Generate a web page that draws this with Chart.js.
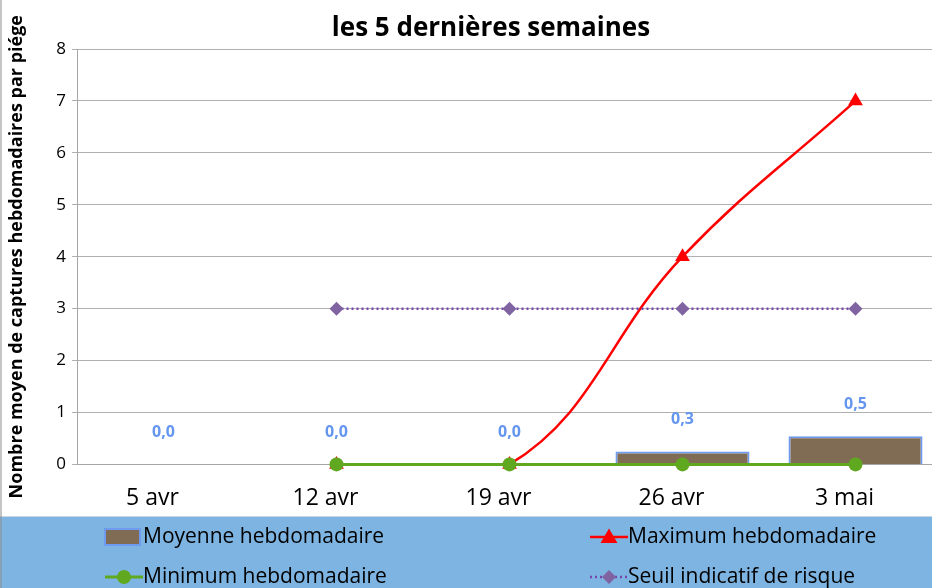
<!DOCTYPE html>
<html>
<head>
<meta charset="utf-8">
<script src="https://cdn.jsdelivr.net/npm/chart.js@4.4.1/dist/chart.umd.min.js"></script>
<style>
  html, body { margin: 0; padding: 0; overflow: hidden; background: #fff; }
  #wrap { position: relative; width: 982px; height: 588px; }
</style>
</head>
<body>
<div id="wrap"><canvas id="captures"></canvas></div>
<script>
// semaines
var semaines = ["5 avr", "12 avr", "19 avr", "26 avr", "3 mai"];
// valeurs
var moyenne = [0, 0, 0, 0.25, 0.54];
var maximum = [null, 0, 0, 4, 7];
var minimum = [null, 0, 0, 0, 0];
var seuil = [null, 3, 3, 3, 3];
var yTicks = [0, 1, 2, 3, 4, 5, 6, 7, 8];
var titre = 'les 5 dernières semaines';

var police = "'Open Sans', 'DejaVu Sans', sans-serif";

// titre (le graphique d'origine est coupe a droite, donc centre a 491)
var titreGraph = {
  id: 'titreGraph',
  afterDraw: function(chart) {
    var ctx = chart.ctx;
    ctx.save();
    ctx.fillStyle = '#000';
    ctx.font = 'bold 26px ' + police;
    ctx.textAlign = 'center';
    ctx.textBaseline = 'middle';
    ctx.fillText(titre, chart.width / 2, 29);
    ctx.restore();
  }
};

// etiquettes bleues au dessus des barres
var etiquettes = {
  id: 'etiquettes',
  afterDatasetsDraw: function(chart) {
    var ctx = chart.ctx;
    var meta = chart.getDatasetMeta(0);
    ctx.save();
    ctx.fillStyle = 'rgb(100,150,240)';
    ctx.font = 'bold 16px ' + police;
    ctx.textAlign = 'center';
    ctx.textBaseline = 'middle';
    meta.data.forEach(function(bar, i) {
      var txt = moyenne[i].toFixed(1).replace('.', ',');
      ctx.fillText(txt, bar.x, bar.y - 32);
    });
    ctx.restore();
  }
};

// legende sur fond bleu, 2 colonnes
var legende = {
  id: 'legende',
  afterDraw: function(chart) {
    var ctx = chart.ctx;
    var top = 516;
    ctx.save();
    ctx.fillStyle = 'rgb(126,180,225)';
    ctx.fillRect(0, top, chart.width, chart.height - top);
    ctx.strokeStyle = 'rgb(200,215,230)';
    ctx.lineWidth = 1;
    ctx.beginPath();
    ctx.moveTo(0, top + 0.5);
    ctx.lineTo(chart.width, top + 0.5);
    ctx.stroke();
    // bordure gauche
    ctx.strokeStyle = '#8c8c8c';
    ctx.beginPath();
    ctx.moveTo(1, 0);
    ctx.lineTo(1, chart.height);
    ctx.stroke();

    var items = chart.data.datasets;
    var pos = [[105, 537], [590, 537], [105, 577], [590, 577]];
    ctx.font = '21px ' + police;
    ctx.textBaseline = 'middle';
    items.forEach(function(ds, j) {
      var x = pos[j][0], y = pos[j][1];
      if (ds.type === 'bar') {
        ctx.fillStyle = ds.backgroundColor;
        ctx.fillRect(x, y - 8, 35, 16);
        ctx.strokeStyle = ds.borderColor;
        ctx.lineWidth = 2;
        ctx.strokeRect(x, y - 8, 35, 16);
      } else {
        ctx.strokeStyle = ds.borderColor;
        ctx.lineWidth = ds.borderWidth;
        ctx.setLineDash(ds.borderDash || []);
        ctx.beginPath();
        ctx.moveTo(x, y);
        ctx.lineTo(x + 38, y);
        ctx.stroke();
        ctx.setLineDash([]);
        var cx = x + 19;
        ctx.fillStyle = ds.pointBackgroundColor;
        ctx.beginPath();
        var r = ds.pointRadius;
        if (ds.pointStyle === 'triangle') {
          ctx.moveTo(cx, y - r);
          ctx.lineTo(cx + r, y + r * 0.7);
          ctx.lineTo(cx - r, y + r * 0.7);
        } else if (ds.pointStyle === 'rectRot') {
          ctx.moveTo(cx, y - r);
          ctx.lineTo(cx + r, y);
          ctx.lineTo(cx, y + r);
          ctx.lineTo(cx - r, y);
        } else {
          ctx.arc(cx, y, r, 0, Math.PI * 2);
        }
        ctx.closePath();
        ctx.fill();
      }
      ctx.fillStyle = '#000';
      ctx.fillText(ds.label, x + 38, y);
    });
    ctx.restore();
  }
};

var config = {
  data: {
    labels: semaines,
    datasets: [
      {
        type: 'bar',
        label: 'Moyenne hebdomadaire',
        data: moyenne,
        backgroundColor: 'rgb(128,108,84)',
        borderColor: 'rgb(110,155,240)',
        borderWidth: 2,
        borderSkipped: 'bottom',
        barPercentage: 0.775,
        categoryPercentage: 1,
        order: 4
      },
      {
        type: 'line',
        label: 'Maximum hebdomadaire',
        data: maximum,
        borderColor: '#ff0000',
        borderWidth: 2.5,
        pointStyle: 'triangle',
        pointRadius: 8.5,
        pointBackgroundColor: '#ff0000',
        pointBorderWidth: 0,
        tension: 0.4,
        clip: false,
        order: 3
      },
      {
        type: 'line',
        label: 'Minimum hebdomadaire',
        data: minimum,
        borderColor: 'rgb(96,168,32)',
        borderWidth: 3,
        pointStyle: 'circle',
        pointRadius: 7,
        pointBackgroundColor: 'rgb(96,168,32)',
        pointBorderWidth: 0,
        clip: false,
        order: 1
      },
      {
        type: 'line',
        label: 'Seuil indicatif de risque',
        data: seuil,
        borderColor: 'rgb(120,70,170)',
        borderWidth: 2.5,
        borderDash: [2, 3],
        pointStyle: 'rectRot',
        pointRadius: 7,
        pointBackgroundColor: 'rgb(128,100,162)',
        pointBorderWidth: 0,
        clip: false,
        order: 2
      }
    ]
  },
  options: {
    responsive: true,
    maintainAspectRatio: false,
    animation: false,
    layout: { padding: { left: 0, right: 40, top: 49, bottom: 56 } },
    plugins: {
      legend: { display: false },
      tooltip: { enabled: false },
      title: { display: false }
    },
    scales: {
      x: {
        offset: true,
        grid: { display: false, drawTicks: false },
        border: { display: true, color: '#a6a6a6', width: 1 },
        ticks: { color: '#000', padding: 20, labelOffset: -11, font: { family: police, size: 23 } }
      },
      y: {
        min: 0,
        max: 8,
        afterBuildTicks: function(s) {
          s.ticks = yTicks.map(function(v) { return { value: v }; });
        },
        afterFit: function(s) { s.width = 77; },
        grid: { color: '#b0b0b0', tickLength: 5 },
        border: { color: '#a6a6a6' },
        ticks: { color: '#000', padding: 6, font: { family: police, size: 17 } },
        title: {
          display: true,
          text: 'Nombre moyen de captures hebdomadaires par piége',
          color: '#000',
          font: { family: police, size: 18, weight: 'bold' },
          padding: { top: 6, bottom: 0 }
        }
      }
    }
  },
  plugins: [etiquettes, titreGraph, legende]
};

new Chart(document.getElementById('captures').getContext('2d'), config);
</script>
</body>
</html>
